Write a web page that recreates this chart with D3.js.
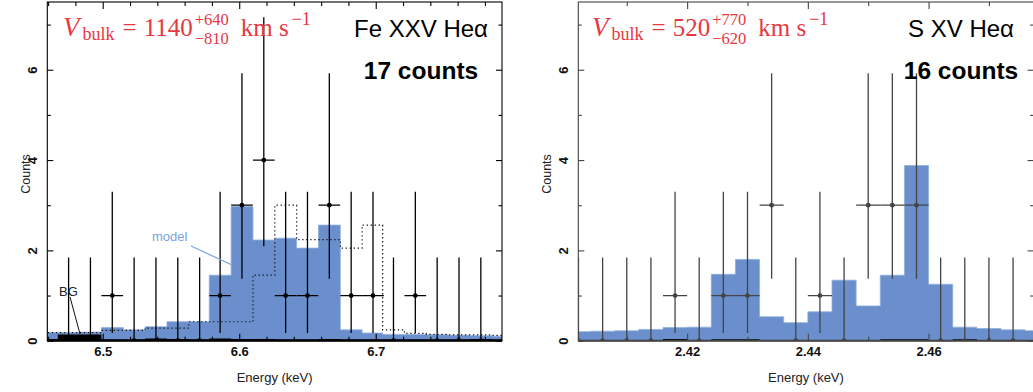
<!DOCTYPE html>
<html>
<head>
<meta charset="utf-8">
<script src="https://cdn.jsdelivr.net/npm/d3@7"></script>
<style>
  body { margin: 0; background: #fff; }
  svg { display: block; }
</style>
</head>
<body>
<div id="chart"></div>
<script>
// Fe XXV Hea panel, bin centres in keV
var feCenters = [6.459, 6.475, 6.491, 6.507, 6.523, 6.539, 6.555, 6.571, 6.586, 6.602, 6.618,
                 6.634, 6.650, 6.666, 6.682, 6.698, 6.713, 6.729, 6.745, 6.761, 6.777, 6.793];
var feCounts = [0, 0, 0, 1, 0, 0, 0, 0, 1, 3, 4, 1, 1, 3, 1, 1, 0, 1, 0, 0, 0, 0];
var feModel = [0.18, 0.18, 0.19, 0.29, 0.24, 0.31, 0.42, 0.42, 1.45, 2.97, 2.23,
               2.27, 2.05, 2.56, 0.24, 0.17, 0.14, 0.14, 0.13, 0.12, 0.11, 0.10];
var feModelRest = [0.18, 0.18, 0.18, 0.23, 0.23, 0.28, 0.28, 0.42, 0.42, 0.42, 1.45,
                   3.00, 2.24, 2.24, 2.05, 2.56, 0.24, 0.16, 0.14, 0.13, 0.13, 0.12];
var feBg = [0.04, 0.14, 0.14, 0.03, 0.03, 0.05, 0.04, 0.03, 0.05, 0.04, 0.04,
            0.03, 0.03, 0.04, 0.03, 0.03, 0.03, 0.03, 0.03, 0.03, 0.04, 0.03];
var feMajor = [6.5, 6.6, 6.7];
var feMinor = [6.46, 6.48, 6.52, 6.54, 6.56, 6.58, 6.62, 6.64, 6.66, 6.68, 6.72, 6.74, 6.76, 6.78];

// S XV Hea panel
var sCenters = [2.402, 2.406, 2.410, 2.414, 2.418, 2.422, 2.426, 2.430, 2.434, 2.438,
                2.442, 2.446, 2.450, 2.454, 2.458, 2.462, 2.466, 2.470, 2.474, 2.478];
var sCounts = [0, 0, 0, 0, 1, 0, 1, 1, 3, 0, 1, 0, 3, 3, 3, 0, 0, 0, 0, null];
var sModel = [0.20, 0.21, 0.22, 0.25, 0.29, 0.30, 1.47, 1.80, 0.53, 0.40,
              0.64, 1.34, 0.77, 1.45, 3.88, 1.25, 0.30, 0.27, 0.24, 0.22];
var sBg = [0, 0, 0, 0, 0.04, 0, 0.03, 0.03, 0, 0, 0, 0, 0, 0.03, 0.03, 0, 0.03, 0, 0, 0];
var sMajor = [2.42, 2.44, 2.46];
var sMinor = [2.41, 2.43, 2.45, 2.47];

var yMajor = [0, 2, 4, 6];
var yMinor = [1, 3, 5, 7];

// Poisson (Gehrels) 1-sigma ranges, by count
var errRange = { 0: [0, 1.84], 1: [0.17, 3.30], 3: [1.37, 5.92], 4: [2.09, 7.16] };

var W = 1033, H = 392;
var blue = '#6a8fcc';
var red = '#e63843';

var svg = d3.select('#chart').append('svg')
  .attr('width', W)
  .attr('height', H)
  .style('font-family', '"Liberation Sans", Arial, sans-serif');

svg.append('rect').attr('width', W).attr('height', H).attr('fill', '#fff');

var y = d3.scaleLinear().domain([0, 7.5]).range([340.7, 2]);

function drawPanel(p) {
  var x = d3.scaleLinear().domain(p.domain).range(p.range);
  var hw = p.halfWidth;
  var g = svg.append('g');

  g.append('clipPath').attr('id', p.id + '-clip')
    .append('rect')
    .attr('x', p.range[0]).attr('y', y.range()[1])
    .attr('width', p.range[1] - p.range[0])
    .attr('height', y.range()[0] - y.range()[1]);

  var plot = g.append('g').attr('clip-path', 'url(#' + p.id + '-clip)');

  // step points: each bin's left edge, then the last right edge
  function steps(vals) {
    var pts = p.centers.map(function (c, i) { return [c - hw, vals[i]]; });
    pts.push([p.centers[p.centers.length - 1] + hw, vals[vals.length - 1]]);
    return pts;
  }

  var area = d3.area()
    .x(function (d) { return x(d[0]); })
    .y0(y(0))
    .y1(function (d) { return y(d[1]); })
    .curve(d3.curveStepAfter);

  var line = d3.line()
    .x(function (d) { return x(d[0]); })
    .y(function (d) { return y(d[1]); })
    .curve(d3.curveStepAfter);

  plot.append('path')
    .datum(steps(p.model))
    .attr('d', area)
    .attr('fill', blue)
    .attr('stroke', '#8fb0e0')
    .attr('stroke-width', 0.8);

  if (p.modelRest) {
    plot.append('path')
      .datum(steps(p.modelRest))
      .attr('d', line)
      .attr('fill', 'none')
      .attr('stroke', '#111')
      .attr('stroke-width', 1.2)
      .attr('stroke-dasharray', '1.3,2.7');
  }

  plot.append('path')
    .datum(steps(p.bg))
    .attr('d', area)
    .attr('fill', '#000');

  // data with error bars
  var pts = p.counts.map(function (n, i) { return { c: p.centers[i], n: n }; })
    .filter(function (d) { return d.n !== null; });

  var eb = plot.append('g').attr('stroke', p.ink).attr('stroke-width', 1.3);
  eb.selectAll('line.v').data(pts).enter().append('line')
    .attr('x1', function (d) { return x(d.c); })
    .attr('x2', function (d) { return x(d.c); })
    .attr('y1', function (d) { return y(errRange[d.n][0]); })
    .attr('y2', function (d) { return y(errRange[d.n][1]); });
  eb.selectAll('line.h').data(pts.filter(function (d) { return d.n > 0; })).enter().append('line')
    .attr('x1', function (d) { return x(d.c - hw); })
    .attr('x2', function (d) { return x(d.c + hw); })
    .attr('y1', function (d) { return y(d.n); })
    .attr('y2', function (d) { return y(d.n); });
  plot.selectAll('circle').data(pts).enter().append('circle')
    .attr('cx', function (d) { return x(d.c); })
    .attr('cy', function (d) { return y(d.n); })
    .attr('r', 2.4)
    .attr('fill', p.ink);

  // frame
  g.append('rect')
    .attr('x', p.range[0]).attr('y', y.range()[1])
    .attr('width', p.range[1] - p.range[0])
    .attr('height', y.range()[0] - y.range()[1])
    .attr('fill', 'none')
    .attr('stroke', p.ink)
    .attr('stroke-width', 1.1);
  g.append('line')
    .attr('x1', p.range[0]).attr('x2', p.range[1])
    .attr('y1', y(0)).attr('y2', y(0))
    .attr('stroke', p.ink).attr('stroke-width', 2);

  // axes, ticks inward on all four sides
  function styleAxis(sel) {
    sel.select('.domain').remove();
    sel.selectAll('line').attr('stroke', p.ink).attr('stroke-width', 1.1);
  }
  g.append('g').attr('transform', 'translate(0,' + y(0) + ')')
    .call(d3.axisBottom(x).tickValues(p.major).tickSize(-7).tickPadding(6).tickFormat(d3.format('.' + p.dec + 'f')))
    .call(styleAxis)
    .selectAll('text')
    .attr('fill', '#111')
    .style('font-size', '13px')
    .style('font-weight', 'bold');
  g.append('g').attr('transform', 'translate(0,' + y(0) + ')')
    .call(d3.axisBottom(x).tickValues(p.minor).tickSize(-4).tickFormat(''))
    .call(styleAxis);
  g.append('g').attr('transform', 'translate(0,' + y.range()[1] + ')')
    .call(d3.axisTop(x).tickValues(p.major).tickSize(-7).tickFormat(''))
    .call(styleAxis);
  g.append('g').attr('transform', 'translate(0,' + y.range()[1] + ')')
    .call(d3.axisTop(x).tickValues(p.minor).tickSize(-4).tickFormat(''))
    .call(styleAxis);

  var left = g.append('g').attr('transform', 'translate(' + p.range[0] + ',0)')
    .call(d3.axisLeft(y).tickValues(yMajor).tickSize(-6).tickFormat(d3.format('d')))
    .call(styleAxis);
  left.selectAll('text')
    .attr('x', 0).attr('y', 0).attr('dy', '0.36em')
    .attr('transform', 'translate(-15,0) rotate(-90)')
    .attr('text-anchor', 'middle')
    .attr('fill', '#111')
    .style('font-size', '13px')
    .style('font-weight', 'bold');
  g.append('g').attr('transform', 'translate(' + p.range[0] + ',0)')
    .call(d3.axisLeft(y).tickValues(yMinor).tickSize(-3.5).tickFormat(''))
    .call(styleAxis);
  g.append('g').attr('transform', 'translate(' + p.range[1] + ',0)')
    .call(d3.axisRight(y).tickValues(yMajor).tickSize(-6).tickFormat(''))
    .call(styleAxis);
  g.append('g').attr('transform', 'translate(' + p.range[1] + ',0)')
    .call(d3.axisRight(y).tickValues(yMinor).tickSize(-3.5).tickFormat(''))
    .call(styleAxis);

  // axis titles
  g.append('text')
    .attr('transform', 'translate(' + (p.range[0] + p.countsDx) + ',174) rotate(-90)')
    .attr('text-anchor', 'middle')
    .attr('dy', '0.35em')
    .attr('fill', '#222')
    .style('font-size', '12.5px')
    .text('Counts');
  g.append('text')
    .attr('x', (p.range[0] + p.range[1]) / 2)
    .attr('y', 382)
    .attr('text-anchor', 'middle')
    .attr('fill', '#222')
    .style('font-size', '13px')
    .text('Energy (keV)');

  // line name and counts
  g.append('text')
    .attr('x', p.labelX).attr('y', 37)
    .attr('text-anchor', 'middle')
    .attr('fill', '#000')
    .style('font-size', '24px')
    .text(p.line);
  g.append('text')
    .attr('x', p.labelX).attr('y', 79)
    .attr('text-anchor', 'middle')
    .attr('fill', '#000')
    .style('font-size', '24.5px')
    .style('font-weight', 'bold')
    .text(p.total + ' counts');

  // V_bulk in red, math style
  var m = g.append('g').attr('transform', 'translate(' + p.vX + ',36)')
    .attr('fill', red)
    .style('font-family', '"Liberation Serif", "Times New Roman", serif');
  var cx = 0;
  function piece(txt, size, dy, italic) {
    var t = m.append('text').attr('x', cx).attr('y', dy)
      .style('font-size', size + 'px')
      .style('font-style', italic ? 'italic' : 'normal')
      .text(txt);
    return t.node().getComputedTextLength();
  }
  cx += piece('V', 27, 0, true) + 3;
  cx += piece('bulk', 18, 4, false) + 8;
  cx += piece('=', 25, 0, false) + 7;
  cx += piece(p.value, 25, 0, false) + 2;
  var wUp = piece('+' + p.up, 16.5, -11, false);
  var wDn = piece('\u2212' + p.down, 16.5, 8, false);
  cx += Math.max(wUp, wDn) + 12;
  cx += piece('km s', 25, 0, false) + 3;
  piece('\u22121', 18, -11, false);
}

drawPanel({
  id: 'fe', domain: [6.4594, 6.7925], range: [47.3, 502], halfWidth: 0.00794,
  centers: feCenters, counts: feCounts, model: feModel, modelRest: feModelRest, bg: feBg,
  major: feMajor, minor: feMinor, dec: 1, ink: '#000', countsDx: -22,
  labelX: 421, line: 'Fe XXV He\u03b1', total: 17,
  vX: 63, value: '1140', up: '640', down: '810'
});

drawPanel({
  id: 's', domain: [2.40197, 2.4774], range: [578.3, 1033.6], halfWidth: 0.002,
  centers: sCenters, counts: sCounts, model: sModel, modelRest: null, bg: sBg,
  major: sMajor, minor: sMinor, dec: 2, ink: '#444', countsDx: -32,
  labelX: 961, line: 'S XV He\u03b1', total: 16,
  vX: 592, value: '520', up: '770', down: '620'
});

// annotations on the Fe panel
svg.append('text')
  .attr('x', 152).attr('y', 241)
  .attr('fill', '#7aa2dc')
  .style('font-size', '13px')
  .text('model');
svg.append('line')
  .attr('x1', 191).attr('y1', 246).attr('x2', 232).attr('y2', 265)
  .attr('stroke', '#7aa2dc').attr('stroke-width', 1.2);
svg.append('text')
  .attr('x', 59).attr('y', 296)
  .attr('fill', '#222')
  .style('font-size', '13px')
  .text('BG');
svg.append('line')
  .attr('x1', 70).attr('y1', 297).attr('x2', 80).attr('y2', 334)
  .attr('stroke', '#111').attr('stroke-width', 1);
</script>
</body>
</html>
